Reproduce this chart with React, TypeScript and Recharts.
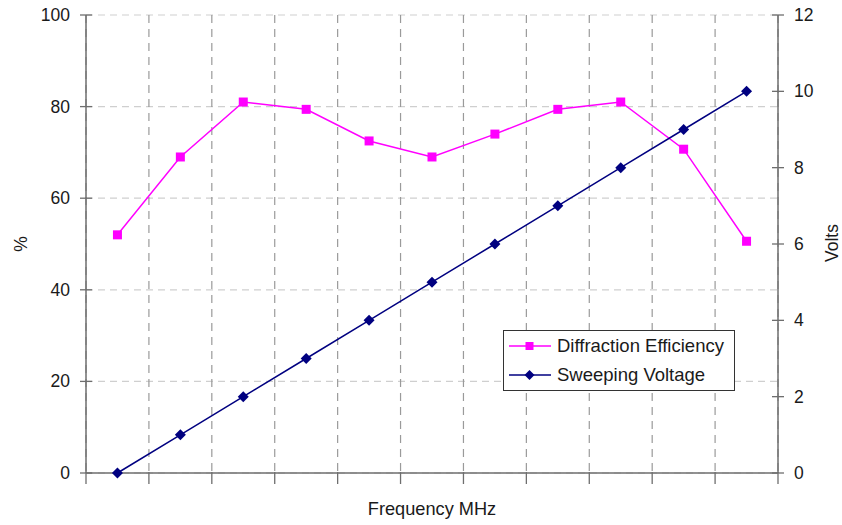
import React from 'react';
import { LineChart, Line, XAxis, YAxis, CartesianGrid } from 'recharts';

const freqSteps = [1, 2, 3, 4, 5, 6, 7, 8, 9, 10, 11];
const diffractionEfficiency = [52, 69, 81, 79.4, 72.5, 69, 74, 79.4, 81, 70.7, 50.6];
const sweepingVoltage = [0, 1, 2, 3, 4, 5, 6, 7, 8, 9, 10];
const xBoundaryTicks = [0.5, 1.5, 2.5, 3.5, 4.5, 5.5, 6.5, 7.5, 8.5, 9.5, 10.5, 11.5];
const percentTicks = [0, 20, 40, 60, 80, 100];
const voltTicks = [0, 2, 4, 6, 8, 10, 12];
const seriesNames = ['Diffraction Efficiency', 'Sweeping Voltage'];
const axisTitles = { x: 'Frequency MHz', left: '%', right: 'Volts' };

const data = freqSteps.map((f, i) => ({
  f,
  de: diffractionEfficiency[i],
  sv: sweepingVoltage[i],
}));

if (typeof document !== 'undefined') {
  document.body.style.margin = '0';
}

const FONT = 'Liberation Sans, Arial, Helvetica, sans-serif';
const FS = 17.5;
const AXIS = '#6e6e6e';
const MAGENTA = '#ff00ff';
const NAVY = '#000080';
const TEXT = '#1a1a1a';

const LeftTick = (props: any) => {
  const { x, y, payload } = props;
  return (
    <g>
      <line x1={x + 10} x2={x + 22} y1={y} y2={y} stroke={AXIS} strokeWidth={1.3} />
      <text x={x} y={y} textAnchor="end" dominantBaseline="central" fontFamily={FONT} fontSize={FS} fill={TEXT}>
        {payload.value}
      </text>
    </g>
  );
};

const RightTick = (props: any) => {
  const { x, y, payload } = props;
  return (
    <g>
      <line x1={x - 10} x2={x - 22} y1={y} y2={y} stroke={AXIS} strokeWidth={1.3} />
      <text x={x} y={y} textAnchor="start" dominantBaseline="central" fontFamily={FONT} fontSize={FS} fill={TEXT}>
        {payload.value}
      </text>
    </g>
  );
};

const BottomTick = (props: any) => {
  const { x, y } = props;
  return <line x1={x} x2={x} y1={y - 13} y2={y - 1} stroke={AXIS} strokeWidth={1.3} />;
};

const Square = (props: any) => {
  const { cx, cy, index } = props;
  return <rect key={`sq-${index}`} x={cx - 4.5} y={cy - 4.5} width={9} height={9} fill={MAGENTA} />;
};

const Diamond = (props: any) => {
  const { cx, cy, index } = props;
  const r = 5.5;
  return (
    <polygon
      key={`dm-${index}`}
      points={`${cx},${cy - r} ${cx + r},${cy} ${cx},${cy + r} ${cx - r},${cy}`}
      fill={NAVY}
    />
  );
};

const LegendBox = () => {
  const items = [
    { name: seriesNames[0], color: MAGENTA, shape: 'square' },
    { name: seriesNames[1], color: NAVY, shape: 'diamond' },
  ];
  return (
    <div
      style={{
        position: 'absolute',
        left: 503,
        top: 330,
        border: '1.5px solid #333',
        background: '#fff',
        width: 232,
        height: 61,
        boxSizing: 'border-box',
        padding: '0 0 0 4px',
        fontFamily: FONT,
        fontSize: 18.5,
        color: TEXT,
      }}
    >
      {items.map((it) => (
        <div key={it.name} style={{ display: 'flex', alignItems: 'center', height: 29.5, whiteSpace: 'nowrap' }}>
          <svg width={44} height={14} style={{ marginRight: 5 }}>
            <line x1={1} x2={43} y1={7} y2={7} stroke={it.color} strokeWidth={1.5} />
            {it.shape === 'square' ? (
              <rect x={17.5} y={3} width={8} height={8} fill={it.color} />
            ) : (
              <polygon points="21.5,2 26.5,7 21.5,12 16.5,7" fill={it.color} />
            )}
          </svg>
          <span>{it.name}</span>
        </div>
      ))}
    </div>
  );
};

const AxisTitle = ({ text, cx, cy, rotate, size }: { text: string; cx: number; cy: number; rotate?: boolean; size: number }) => (
  <div
    style={{
      position: 'absolute',
      left: cx,
      top: cy,
      transform: `translate(-50%, -50%)${rotate ? ' rotate(-90deg)' : ''}`,
      fontFamily: FONT,
      fontSize: size,
      color: TEXT,
      whiteSpace: 'nowrap',
      lineHeight: 1,
    }}
  >
    {text}
  </div>
);

export default function App() {
  return (
    <div style={{ position: 'relative', width: 842, height: 525, background: '#fff', overflow: 'hidden' }}>
      <LineChart width={842} height={525} data={data} margin={{ top: 15, right: 14, left: 26, bottom: 22 }}>
        <CartesianGrid yAxisId="pct" vertical={false} stroke="#cfcfcf" strokeDasharray="7 5" strokeWidth={1.2} />
        <CartesianGrid yAxisId="pct" horizontal={false} stroke="#9a9a9a" strokeDasharray="8 6" strokeWidth={1.2} />
        <XAxis
          dataKey="f"
          type="number"
          domain={[0.5, 11.5]}
          ticks={xBoundaryTicks}
          stroke={AXIS}
          strokeWidth={1.5}
          tickLine={false}
          tickSize={6}
          tickMargin={6}
          height={30}
          tick={<BottomTick />}
        />
        <YAxis
          yAxisId="pct"
          orientation="left"
          domain={[0, 100]}
          ticks={percentTicks}
          width={60}
          stroke={AXIS}
          strokeWidth={1.5}
          tickLine={false}
          tickSize={6}
          tickMargin={10}
          tick={<LeftTick />}
        />
        <YAxis
          yAxisId="volt"
          orientation="right"
          domain={[0, 12]}
          ticks={voltTicks}
          width={50}
          stroke={AXIS}
          strokeWidth={1.5}
          tickLine={false}
          tickSize={6}
          tickMargin={10}
          tick={<RightTick />}
        />
        <Line
          yAxisId="pct"
          dataKey="de"
          name={seriesNames[0]}
          stroke={MAGENTA}
          strokeWidth={1.5}
          dot={Square}
          activeDot={false}
          isAnimationActive={false}
        />
        <Line
          yAxisId="volt"
          dataKey="sv"
          name={seriesNames[1]}
          stroke={NAVY}
          strokeWidth={1.5}
          dot={Diamond}
          activeDot={false}
          isAnimationActive={false}
        />
      </LineChart>
      <AxisTitle text={axisTitles.x} cx={432} cy={509} size={18.2} />
      <AxisTitle text={axisTitles.left} cx={22} cy={244} rotate size={17.5} />
      <AxisTitle text={axisTitles.right} cx={833} cy={243} rotate size={17.5} />
      <LegendBox />
    </div>
  );
}
